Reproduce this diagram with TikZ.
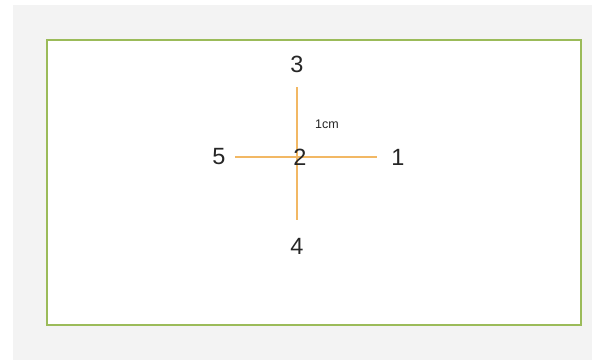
\documentclass[tikz,border=0pt]{standalone}
\usepackage{fontspec}
\setmainfont{Liberation Sans}
\definecolor{bggrey}{RGB}{243,243,243}
\definecolor{boxgreen}{RGB}{155,187,89}
\definecolor{crossorange}{RGB}{242,184,100}
\definecolor{txt}{RGB}{38,38,38}
\begin{document}
\begin{tikzpicture}[x=1pt,y=-1pt,
  lbl/.style={inner sep=0pt,text=txt,font=\fontsize{23.5}{23.5}\selectfont},
  small/.style={inner sep=0pt,text=txt,font=\fontsize{12.5}{12.5}\selectfont},
  arm/.style={draw=crossorange,line width=1.2pt}]
\useasboundingbox (0,0) rectangle (592,360);
\fill[white] (0,0) rectangle (592,360);
\fill[bggrey] (13,5) rectangle (592,360);
\draw[boxgreen,line width=1.2pt,fill=white] (47,40) rectangle (581,325);
\coordinate (top) at (297,87);
\coordinate (bot) at (297,220);
\coordinate (lft) at (235,157);
\coordinate (rgt) at (377,157);
\draw[arm] (top) -- (bot);
\draw[arm] (lft) -- (rgt);
\node[lbl] (n3) at (297,64) {3};
\node[lbl] (n4) at (297,246) {4};
\node[lbl] (n5) at (219,157) {5};
\node[lbl] (n1) at (398,157) {1};
\node[lbl] (n2) at (300,157) {2};
\node[small] (cm) at (327,124) {1cm};
\end{tikzpicture}
\end{document}
